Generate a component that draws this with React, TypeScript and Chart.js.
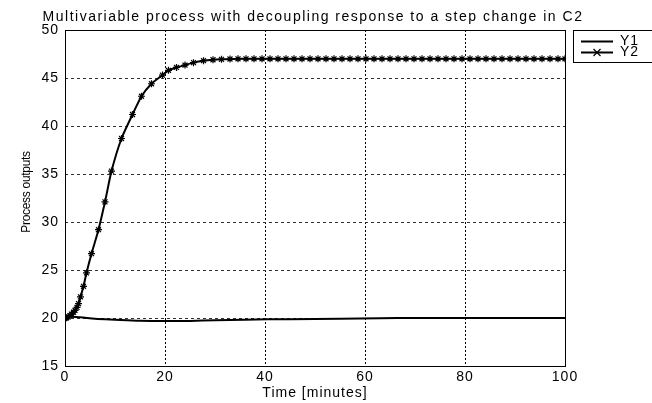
import { useEffect, useRef } from "react";
import { Chart, registerables } from "chart.js";

Chart.register(...registerables);

const TITLE = "Multivariable process with decoupling response to a step change in C2";
const X_LABEL = "Time [minutes]";
const Y_LABEL = "Process outputs";
const SERIES_NAMES = ["Y1", "Y2"];
const X_MIN = 0;
const X_MAX = 100;
const X_STEP = 20;
const Y_MIN = 15;
const Y_MAX = 50;
const Y_STEP = 5;

const Y1_TIME = [0, 1, 3, 6, 10, 15, 20, 25, 30, 36, 45, 55, 63, 70, 80, 100];
const Y1_VALUES = [20, 20.12, 20.08, 19.93, 19.83, 19.72, 19.68, 19.7, 19.76, 19.83, 19.88, 19.92, 19.97, 20, 20, 20];

const Y2_TIME = [
  0, 0.3, 0.6, 1.0, 1.3, 1.7, 2.0, 2.4, 2.7, 3.1, 3.7, 4.3, 5.3, 6.7, 8.0, 9.3, 11.3, 13.5, 15.3, 17.3,
  19.5, 20.7, 22.3, 24.0, 25.7, 27.7, 29.6, 31.3, 33.0, 34.6, 36.2, 37.8, 39.4, 41.0, 42.6, 44.2, 45.8,
  47.4, 49.0, 50.6, 52.2, 53.8, 55.4, 57.0, 58.6, 60.2, 61.8, 63.4, 65.0, 66.6, 68.2, 69.8, 71.4, 73.0,
  74.6, 76.2, 77.8, 79.4, 81.0, 82.6, 84.2, 85.8, 87.4, 89.0, 90.6, 92.2, 93.8, 95.4, 97.0, 98.6, 100,
];
const Y2_VALUES = [
  20, 20.02, 20.1, 20.25, 20.4, 20.6, 20.8, 21.1, 21.5, 22.2, 23.3, 24.7, 26.7, 29.2, 32.1, 35.3, 38.7, 41.2, 43.1, 44.4,
  45.3, 45.8, 46.1, 46.35, 46.6, 46.8, 46.9, 46.95, 46.98, 47, 47, 47, 47, 47, 47, 47, 47,
  47, 47, 47, 47, 47, 47, 47, 47, 47, 47, 47, 47, 47, 47, 47, 47, 47,
  47, 47, 47, 47, 47, 47, 47, 47, 47, 47, 47, 47, 47, 47, 47, 47, 47,
];

const FONT = "'Liberation Sans', Arial, sans-serif";

const decorPlugin = {
  id: "decor",
  beforeDraw(chart: any) {
    const ctx = chart.ctx;
    ctx.save();
    ctx.fillStyle = "#ffffff";
    ctx.fillRect(0, 0, chart.width, chart.height);
    ctx.restore();
    ctx.letterSpacing = "1px";
  },
  afterDraw(chart: any) {
    const ctx = chart.ctx;
    const a = chart.chartArea;
    ctx.save();
    ctx.strokeStyle = "#000";
    ctx.lineWidth = 1;
    ctx.setLineDash([]);
    ctx.strokeRect(Math.round(a.left) + 0.5, Math.round(a.top) + 0.5, Math.round(a.right - a.left), Math.round(a.bottom - a.top));

    ctx.fillStyle = "#000";
    ctx.textBaseline = "middle";
    ctx.textAlign = "center";
    ctx.font = `14px ${FONT}`;
    ctx.letterSpacing = "1.5px";
    ctx.fillText(TITLE, (a.left + a.right) / 2 - 2, 17);
    ctx.letterSpacing = "1px";
    ctx.fillText(X_LABEL, (a.left + a.right) / 2, 393);

    ctx.save();
    ctx.translate(27, (a.top + a.bottom) / 2 - 6);
    ctx.rotate(-Math.PI / 2);
    ctx.font = `12px ${FONT}`;
    ctx.letterSpacing = "-0.3px";
    ctx.fillText(Y_LABEL, 0, 0);
    ctx.restore();

    const lx = 573.5, ly = 30.5, lw = 80, lh = 32;
    ctx.strokeStyle = "#000";
    ctx.lineWidth = 1;
    ctx.strokeRect(lx, ly, lw, lh);
    const rows = [41, 52];
    chart.data.datasets.forEach((ds: any, i: number) => {
      const y = rows[i] + 0.5;
      ctx.strokeStyle = ds.borderColor;
      ctx.lineWidth = ds.borderWidth;
      ctx.beginPath();
      ctx.moveTo(581, y);
      ctx.lineTo(613, y);
      ctx.stroke();
      if (ds.pointRadius > 0) {
        ctx.lineWidth = 1.2;
        const r = ds.pointRadius;
        const cx = 597;
        ctx.beginPath();
        ctx.moveTo(cx - r, y - r); ctx.lineTo(cx + r, y + r);
        ctx.moveTo(cx - r, y + r); ctx.lineTo(cx + r, y - r);
        ctx.moveTo(cx - r, y); ctx.lineTo(cx + r, y);
        ctx.stroke();
      }
      ctx.textAlign = "left";
      ctx.font = `14px ${FONT}`;
      ctx.letterSpacing = "1px";
      ctx.fillText(ds.label, 620, rows[i]);
    });
    ctx.restore();
  },
};

export default function App() {
  const ref = useRef<HTMLCanvasElement | null>(null);
  useEffect(() => {
    if (!ref.current) return;
    const chart = new Chart(ref.current, {
      type: "line",
      data: {
        datasets: [
          {
            label: SERIES_NAMES[0],
            data: Y1_TIME.map((t, i) => ({ x: t, y: Y1_VALUES[i] })),
            borderColor: "#000",
            borderWidth: 2,
            pointRadius: 0,
            tension: 0.3,
          },
          {
            label: SERIES_NAMES[1],
            data: Y2_TIME.map((t, i) => ({ x: t, y: Y2_VALUES[i] })),
            borderColor: "#000",
            backgroundColor: "#000",
            borderWidth: 2,
            pointStyle: "star",
            pointRadius: 3.5,
            pointBorderWidth: 1.2,
            tension: 0.2,
          },
        ],
      },
      options: {
        responsive: false,
        animation: false,
        devicePixelRatio: 1,
        layout: { padding: { top: 30, right: 87, left: 0, bottom: 0 } },
        plugins: { legend: { display: false }, tooltip: { enabled: false }, title: { display: false } },
        scales: {
          x: {
            type: "linear",
            min: X_MIN,
            max: X_MAX,
            ticks: { stepSize: X_STEP, color: "#000", font: { family: FONT, size: 14 }, padding: 3, maxRotation: 0 },
            grid: { color: "#000", drawTicks: false, lineWidth: 1 },
            border: { display: false, dash: [2, 2] },
            afterFit: (s: any) => { s.height = 37; },
          },
          y: {
            min: Y_MIN,
            max: Y_MAX,
            ticks: { stepSize: Y_STEP, color: "#000", font: { family: FONT, size: 14 }, padding: 6 },
            grid: { color: "#333", drawTicks: false, lineWidth: 1 },
            border: { display: false, dash: [3, 3] },
            afterFit: (s: any) => { s.width = 65; },
          },
        },
      },
      plugins: [decorPlugin],
    } as any);
    return () => chart.destroy();
  }, []);
  return (
    <div style={{ position: "absolute", left: 0, top: 0, width: 652, height: 403 }}>
      <canvas ref={ref} width={652} height={403} />
    </div>
  );
}
